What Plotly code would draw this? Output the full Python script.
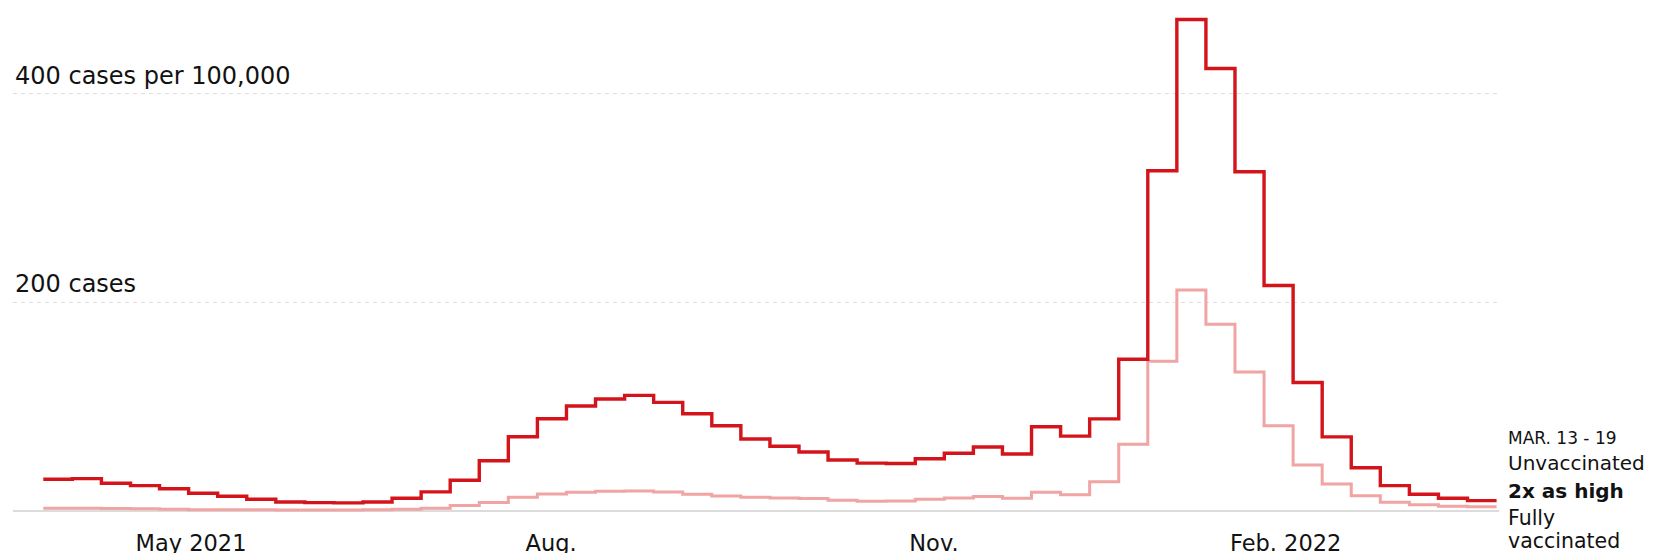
import plotly.graph_objects as go
import pandas as pd

# ---- data -----------------------------------------------------------------
week_starts = pd.date_range("2021-04-04", periods=50, freq="7D")
period_end = "2022-03-20"

unvaccinated = [
    30.3, 30.9, 26.5, 24.2, 21.3, 16.9, 14.1, 11.2, 8.6, 7.9,
    7.7, 8.6, 12.2, 18.2, 29.4, 48.1, 71.1, 88.3, 100.5, 107.2,
    110.7, 104.0, 93.1, 81.6, 68.9, 61.9, 56.5, 48.8, 45.8, 45.4,
    50.0, 55.2, 61.2, 54.5, 80.6, 71.7, 88.2, 145.3, 326.0, 471.0,
    424.0, 325.0, 216.0, 123.0, 71.0, 41.4, 24.2, 16.0, 12.1, 9.9,
]
vaccinated = [
    2.5, 2.5, 2.3, 2.0, 1.5, 1.2, 1.0, 1.0, 0.9, 0.9,
    0.9, 1.0, 1.5, 2.6, 5.1, 8.0, 13.1, 16.3, 17.9, 18.8,
    19.1, 18.2, 16.0, 14.4, 13.1, 12.4, 11.8, 10.2, 9.3, 9.5,
    11.2, 12.4, 13.7, 12.1, 17.9, 15.6, 28.0, 63.8, 143.4, 211.6,
    178.8, 133.2, 81.5, 44.0, 25.8, 14.6, 8.3, 6.0, 4.5, 4.1,
]

y_grid_vals = [200, 400]
y_grid_labels = ["200 cases", "400 cases per 100,000"]

x_tick_vals = ["2021-05-09 14:00", "2021-08-04 07:00", "2021-11-04 12:00", "2022-01-28 05:00"]
x_tick_text = ["May 2021", "Aug.", "Nov.", "Feb. 2022"]

end_label_period = "MAR. 13 - 19"
end_label_lines = ["Unvaccinated", "<b>2x as high</b>", "Fully", "vaccinated"]

# ---- styling --------------------------------------------------------------
FONT = "DejaVu Sans, Liberation Sans, Arial, sans-serif"
RED = "#d3141b"
PINK = "#f0a4a4"
TEXT = "#121212"

# the page body adds an 8px margin, so the figure is drawn 8px in from the
# top-left corner of the window
OFF = 8
W, H = 1656 - OFF, 553 - OFF
M_L, M_R, M_T, M_B = 5, 157, 1, 40
plot_w = W - M_L - M_R
plot_h = H - M_T - M_B


def paper_y(screen_px):
    return (H - M_B - (screen_px - OFF)) / plot_h


def paper_x(screen_px):
    return ((screen_px - OFF) - M_L) / plot_w


x_ext = list(week_starts) + [pd.Timestamp(period_end)]

fig = go.Figure()
fig.add_trace(go.Scatter(
    x=x_ext, y=vaccinated + [vaccinated[-1]],
    mode="lines", line=dict(shape="hv", color=PINK, width=3),
    name="Fully vaccinated", hoverinfo="skip",
))
fig.add_trace(go.Scatter(
    x=x_ext, y=unvaccinated + [unvaccinated[-1]],
    mode="lines", line=dict(shape="hv", color=RED, width=3.4),
    name="Unvaccinated", hoverinfo="skip",
))

annotations = []
for v, lab in zip(y_grid_vals, y_grid_labels):
    annotations.append(dict(
        xref="paper", yref="y", x=0, y=v, xanchor="left", yanchor="bottom",
        text=lab, showarrow=False, yshift=2,
        font=dict(family=FONT, size=24, color=TEXT),
    ))

# right-hand end labels (baseline pixel positions measured from reference)
end_items = [
    (end_label_period, 17, 444),
    (end_label_lines[0], 20, 470),
    (end_label_lines[1], 20, 498.3),
    (end_label_lines[2], 20.5, 525),
    (end_label_lines[3], 20.5, 548.3),
]
for txt, size, base in end_items:
    center = base - 0.35 * size
    annotations.append(dict(
        xref="paper", yref="paper", x=paper_x(1506), y=paper_y(center),
        xanchor="left", yanchor="middle", text=txt, showarrow=False,
        font=dict(family=FONT, size=size, color=TEXT),
    ))

fig.update_layout(
    width=W, height=H,
    margin=dict(l=M_L, r=M_R, t=M_T, b=M_B, pad=0, autoexpand=False),
    paper_bgcolor="white", plot_bgcolor="white",
    showlegend=False,
    annotations=annotations,
    font=dict(family=FONT, color=TEXT),
    xaxis=dict(
        type="date",
        range=["2021-03-27 17:00", "2022-03-20 14:00"],
        tickvals=x_tick_vals, ticktext=x_tick_text,
        tickfont=dict(family=FONT, size=22.5, color=TEXT),
        ticklabelstandoff=14, automargin=False,
        showgrid=False, zeroline=False, showline=False, ticks="",
        fixedrange=True,
    ),
    yaxis=dict(
        range=[-2, 481], automargin=False,
        tickvals=y_grid_vals, showticklabels=False,
        showgrid=True, gridcolor="#dedede", gridwidth=1, griddash="4px,4px",
        zeroline=True, zerolinecolor="#dcdcdc", zerolinewidth=2,
        showline=False, ticks="", fixedrange=True,
    ),
)

fig.write_html("out.html")
